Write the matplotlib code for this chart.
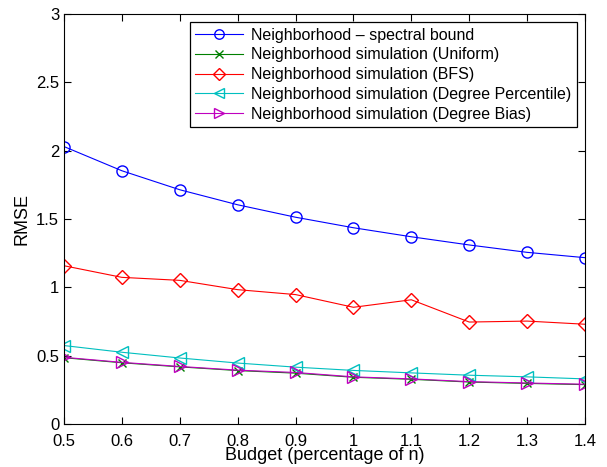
import matplotlib
matplotlib.use("Agg")
import matplotlib.pyplot as plt

plt.rcParams['font.family'] = ['Liberation Sans', 'DejaVu Sans']

budget = [0.5, 0.6, 0.7, 0.8, 0.9, 1.0, 1.1, 1.2, 1.3, 1.4]
spectral = [2.03, 1.853, 1.714, 1.604, 1.513, 1.436, 1.37, 1.31, 1.256, 1.217]
uniform = [0.485, 0.448, 0.418, 0.391, 0.372, 0.342, 0.327, 0.307, 0.297, 0.288]
bfs = [1.158, 1.073, 1.051, 0.983, 0.947, 0.854, 0.909, 0.746, 0.753, 0.73]
deg_pct = [0.574, 0.525, 0.483, 0.446, 0.416, 0.392, 0.374, 0.357, 0.345, 0.330]
deg_bias = [0.488, 0.451, 0.421, 0.394, 0.377, 0.345, 0.330, 0.310, 0.300, 0.291]

labels = ["Neighborhood \u2013 spectral bound",
          "Neighborhood simulation (Uniform)",
          "Neighborhood simulation (BFS)",
          "Neighborhood simulation (Degree Percentile)",
          "Neighborhood simulation (Degree Bias)"]

fig = plt.figure(figsize=(6.07, 4.67), dpi=100)
ax = fig.add_axes([64 / 607, 43 / 467, 521 / 607, 410 / 467])

lw = 0.8
ax.plot(budget, spectral, color='#0000ff', marker='o', ms=8, mfc='none', lw=lw, label=labels[0])
ax.plot(budget, uniform, color='#008000', marker='x', ms=6, mfc='none', lw=lw, label=labels[1])
ax.plot(budget, bfs, color='#ff0000', marker='D', ms=7, mfc='none', lw=lw, label=labels[2])
ax.plot(budget, deg_pct, color='#00bfbf', marker='<', ms=9, mfc='none', lw=lw, label=labels[3])
ax.plot(budget, deg_bias, color='#bf00bf', marker='>', ms=9, mfc='none', lw=lw, label=labels[4])

ax.set_xlim(0.5, 1.4)
ax.set_ylim(0, 3)
ax.set_xticks(budget)
ax.set_xticklabels(['0.5', '0.6', '0.7', '0.8', '0.9', '1', '1.1', '1.2', '1.3', '1.4'])
ax.set_yticks([0, 0.5, 1, 1.5, 2, 2.5, 3])
ax.set_yticklabels(['0', '0.5', '1', '1.5', '2', '2.5', '3'])
ax.tick_params(direction='in', top=True, right=True, labelsize=12, length=5)
ax.tick_params(axis='x', pad=7)
ax.set_xlabel('Budget (percentage of n)', fontsize=13, labelpad=-1)
ax.set_ylabel('RMSE', fontsize=13, labelpad=4)

leg = ax.legend(loc='upper right', fontsize=11.5, frameon=True, fancybox=False,
                edgecolor='black', framealpha=1, borderaxespad=0.5,
                handlelength=3.0, handletextpad=0.5, labelspacing=0.3,
                borderpad=0.35, markerscale=0.85)
leg.get_frame().set_linewidth(0.9)

fig.savefig('out.png', dpi=100)
